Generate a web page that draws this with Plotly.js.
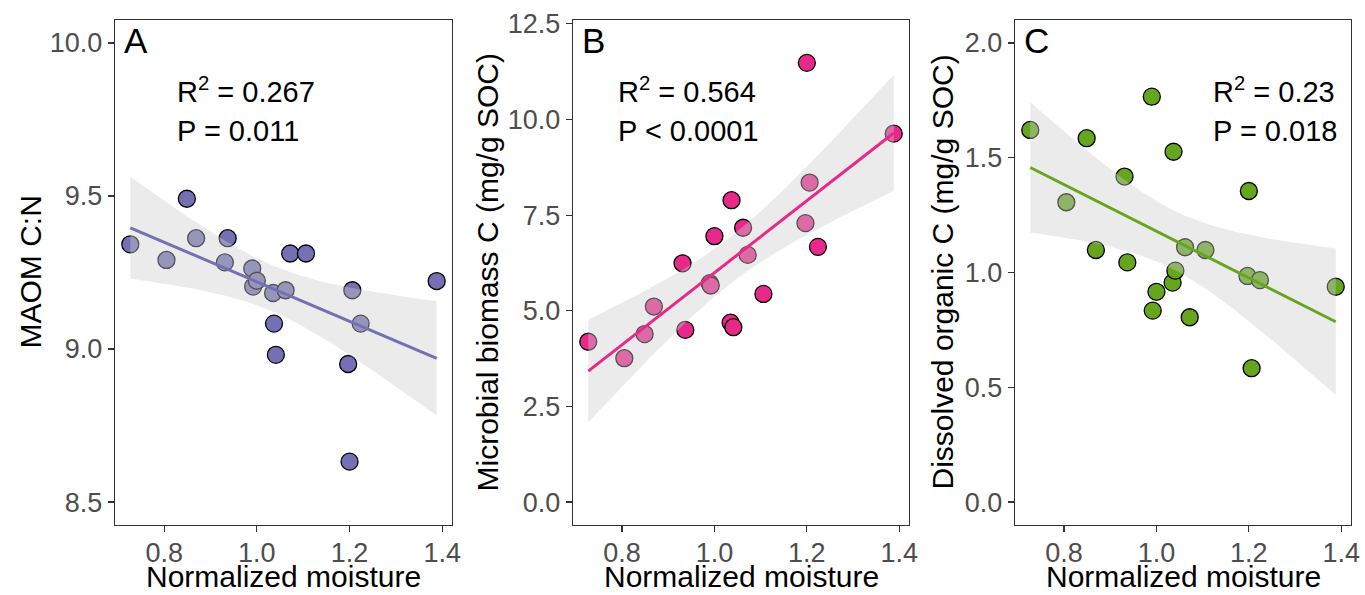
<!DOCTYPE html>
<html>
<head>
<meta charset="utf-8">
<script src="https://cdn.plot.ly/plotly-3.0.1.min.js"></script>
<style>html,body{margin:0;padding:0;background:#fff;}#chart{width:1365px;height:595px;}</style>
</head>
<body>
<div id="chart"></div>
<script>
// ---- data ----
const moisture = [0.727, 0.805, 0.849, 0.869, 0.931, 0.937, 0.990, 0.992, 1.000, 1.035,
                  1.037, 1.041, 1.062, 1.072, 1.106, 1.197, 1.200, 1.206, 1.224, 1.388];
const maomCN   = [9.342, 9.291, 9.491, 9.362, 9.283, 9.362, 9.263, 9.204, 9.223, 9.183,
                  9.083, 8.981, 9.192, 9.312, 9.312, 8.951, 8.632, 9.192, 9.083, 9.222];
const microbialC = [4.19, 3.76, 4.39, 5.11, 6.24, 4.50, 5.72, 5.66, 6.95, 4.69,
                    7.89, 4.57, 7.17, 6.46, 5.44, 7.29, 11.48, 8.35, 6.67, 9.63];
const dissolvedC = [1.621, 1.306, 1.585, 1.098, 1.418, 1.044, 1.766, 0.834, 0.916, 0.956,
                    1.526, 1.008, 1.110, 0.805, 1.098, 0.985, 1.355, 0.583, 0.967, 0.938];

const panelLetters = ['A', 'B', 'C'];
const r2Labels = ['0.267', '0.564', '0.23'];
const pLabels = ['P = 0.011', 'P < 0.0001', 'P = 0.018'];
const yTitles = ['MAOM C:N', 'Microbial biomass C (mg/g SOC)', 'Dissolved organic C (mg/g SOC)'];
const xTitle = 'Normalized moisture';
const yLimits = [[8.5, 10.0], [0.0, 12.0], [0.0, 2.0]];
const yTickStep = [0.5, 2.5, 0.5];
const xTickStep = 0.2;

// ---- styles / layout geometry ----
const W = 1365, H = 595;
const colors = ['#7570b3', '#e7298a', '#66a61e'];
const panelLeft = [115, 573, 1015], panelRight = [452, 909, 1351];
const plotTop = 20, plotBottom = 525;
const FONT = 'Liberation Sans, Arial, Helvetica, sans-serif';

const series = [maomCN, microbialC, dissolvedC];

function tQuantile975(df) {
  const z = 1.959963985;
  const z3 = z*z*z, z5 = z3*z*z, z7 = z5*z*z, z9 = z7*z*z;
  return z + (z3 + z)/(4*df) + (5*z5 + 16*z3 + 3*z)/(96*df*df)
    + (3*z7 + 19*z5 + 17*z3 - 15*z)/(384*Math.pow(df,3))
    + (79*z9 + 776*z7 + 1482*z5 - 1920*z3 - 945*z)/(92160*Math.pow(df,4));
}

function lmBand(x, y, nOut) {
  const n = x.length;
  const xbar = x.reduce((a,b)=>a+b,0)/n, ybar = y.reduce((a,b)=>a+b,0)/n;
  let sxx = 0, sxy = 0;
  for (let i=0;i<n;i++){ sxx += (x[i]-xbar)**2; sxy += (x[i]-xbar)*(y[i]-ybar); }
  const b = sxy/sxx, a = ybar - b*xbar;
  let sse = 0;
  for (let i=0;i<n;i++){ sse += (y[i]-a-b*x[i])**2; }
  const s = Math.sqrt(sse/(n-2));
  const t = tQuantile975(n-2);
  const xmin = Math.min(...x), xmax = Math.max(...x);
  const xs = [], fit = [], lo = [], hi = [];
  for (let k=0;k<nOut;k++){
    const xv = xmin + (xmax-xmin)*k/(nOut-1);
    const yv = a + b*xv;
    const se = s*Math.sqrt(1/n + (xv-xbar)**2/sxx);
    xs.push(xv); fit.push(yv); lo.push(yv - t*se); hi.push(yv + t*se);
  }
  return {xs, fit, lo, hi};
}

const xmin = Math.min(...moisture), xmax = Math.max(...moisture);
const xpad = (xmax - xmin)*0.05;
const xRange = [xmin - xpad, xmax + xpad];

const traces = [];
const layout = {
  width: W, height: H,
  margin: {l:0, r:0, t:0, b:0, pad:0},
  paper_bgcolor: '#ffffff', plot_bgcolor: '#ffffff',
  showlegend: false,
  font: {family: FONT, color: '#000000'},
  annotations: []
};

const px2x = px => px / W;
const px2y = py => 1 - py / H;

for (let p = 0; p < 3; p++) {
  const ax = p === 0 ? '' : String(p+1);
  const xa = 'x' + ax, ya = 'y' + ax;
  const y = series[p];
  traces.push({
    type: 'scatter', mode: 'markers', x: moisture, y: y, xaxis: xa, yaxis: ya,
    marker: {size: 17, color: colors[p], line: {color: '#000000', width: 1.3}},
    hoverinfo: 'x+y'
  });
  const band = lmBand(moisture, y, 80);
  traces.push({
    type: 'scatter', mode: 'lines',
    x: band.xs.concat(band.xs.slice().reverse()),
    y: band.hi.concat(band.lo.slice().reverse()),
    fill: 'toself', fillcolor: 'rgba(204,204,204,0.4)',
    line: {width: 0, color: 'rgba(0,0,0,0)'},
    xaxis: xa, yaxis: ya, hoverinfo: 'skip'
  });
  traces.push({
    type: 'scatter', mode: 'lines', x: band.xs, y: band.fit, xaxis: xa, yaxis: ya,
    line: {color: colors[p], width: 3}, hoverinfo: 'skip'
  });

  const ylo = yLimits[p][0], yhi = yLimits[p][1], ypad = (yhi - ylo)*0.05;
  const axisCommon = {
    showline: true, mirror: true, linecolor: '#333333', linewidth: 1.2,
    ticks: 'outside', ticklen: 6, tickwidth: 1.2, tickcolor: '#333333',
    showgrid: false, zeroline: false, automargin: false,
    tickfont: {family: FONT, size: 27, color: '#4d4d4d'}
  };
  layout['xaxis' + ax] = Object.assign({}, axisCommon, {
    domain: [px2x(panelLeft[p]), px2x(panelRight[p])],
    range: xRange, tick0: 0.8, dtick: xTickStep, tickformat: '.1f',
    ticklabelstandoff: -3,
    anchor: ya
  });
  layout['yaxis' + ax] = Object.assign({}, axisCommon, {
    domain: [px2y(plotBottom), px2y(plotTop)],
    range: [ylo - ypad, yhi + ypad], tick0: ylo, dtick: yTickStep[p], tickformat: '.1f',
    anchor: xa
  });

  // panel letter
  layout.annotations.push({
    xref: 'paper', yref: 'paper', x: px2x(panelLeft[p] + 7), y: px2y(41),
    xanchor: 'left', yanchor: 'middle', showarrow: false,
    text: panelLetters[p], font: {family: FONT, size: 35, color: '#000000'}
  });
  // stats
  const statX = [175, 616, 1211][p];
  layout.annotations.push({
    xref: 'paper', yref: 'paper', x: px2x(statX), y: px2y(102.7 + 0.212*29 + 1),
    xanchor: 'left', yanchor: 'bottom', showarrow: false,
    text: 'R<sup>2</sup> = ' + r2Labels[p], font: {family: FONT, size: 29, color: '#000000'}
  });
  layout.annotations.push({
    xref: 'paper', yref: 'paper', x: px2x(statX), y: px2y(141.7 + 0.212*29 + 1),
    xanchor: 'left', yanchor: 'bottom', showarrow: false,
    text: pLabels[p], font: {family: FONT, size: 29, color: '#000000'}
  });
  // x title
  layout.annotations.push({
    xref: 'paper', yref: 'paper', x: px2x((panelLeft[p] + panelRight[p]) / 2), y: 0,
    xanchor: 'center', yanchor: 'bottom', showarrow: false,
    text: xTitle, font: {family: FONT, size: 30, color: '#000000'}
  });
  // y title
  layout.annotations.push({
    xref: 'paper', yref: 'paper', x: px2x([30, 487, 942][p]), y: px2y((plotTop + plotBottom) / 2),
    xanchor: 'center', yanchor: 'middle', showarrow: false, textangle: -90,
    text: yTitles[p], font: {family: FONT, size: 30, color: '#000000'}
  });
}

Plotly.newPlot('chart', traces, layout, {displayModeBar: false, staticPlot: true});
</script>
</body>
</html>
